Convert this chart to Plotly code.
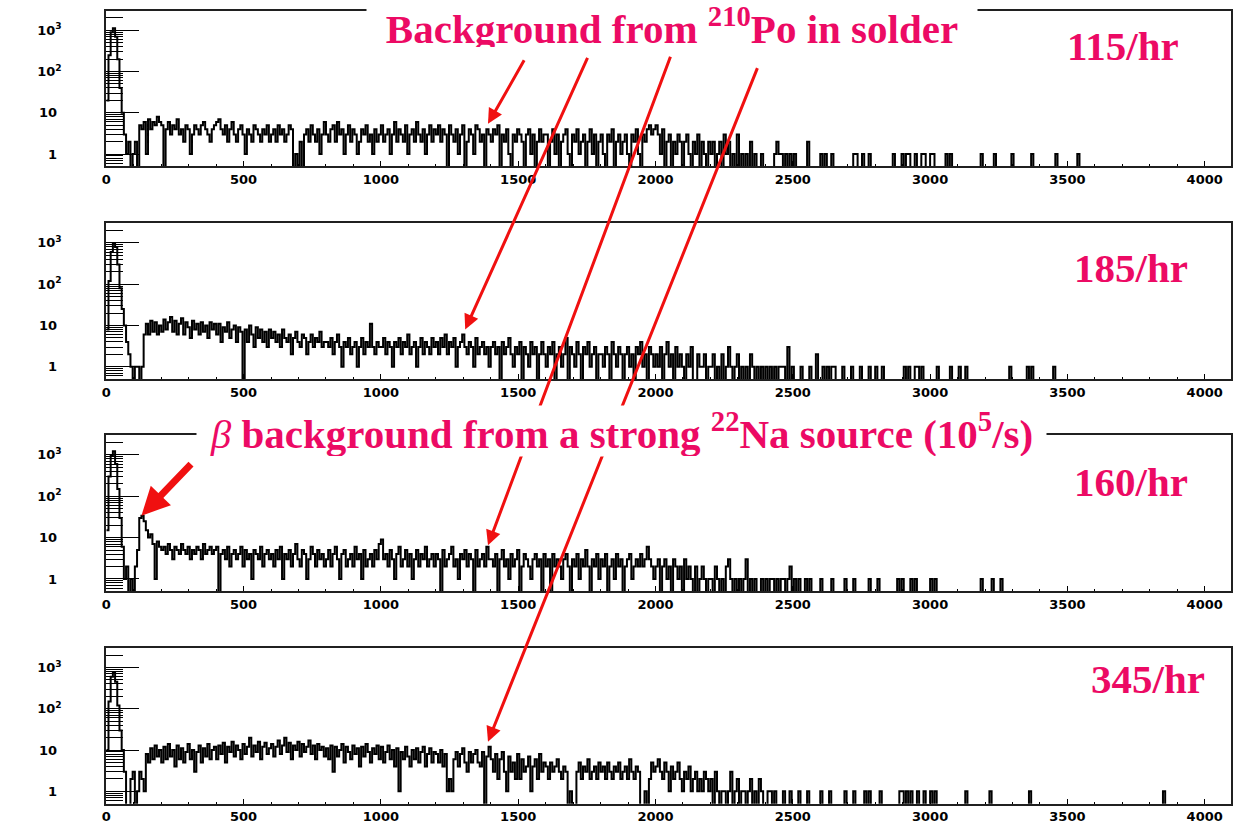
import numpy as np
import plotly.graph_objects as go

# ---------------- data (8-channel bins, channels 0..2400) ----------------
BIN_WIDTH = 8
N_CHANNELS = 4096

p1_counts = [
    20, 250, 900, 1120, 700, 200, 40, 10, 3, 1, 2, 0, 1, 2, 0, 5, 4, 6, 1, 7, 4, 6, 5, 8, 6,
    5, 0, 4, 6, 3, 5, 4, 7, 3, 4, 2, 5, 4, 1, 3, 5, 4, 3, 5, 6, 4, 3, 2, 4, 5,
    6, 7, 4, 3, 5, 2, 4, 6, 3, 2, 4, 5, 3, 1, 4, 3, 2, 5, 4, 3, 2, 4, 3, 5, 2,
    3, 4, 2, 5, 3, 4, 2, 3, 5, 4, 0, 1, 0, 2, 0, 3, 4, 2, 5, 3, 2, 4, 1, 3, 6,
    3, 2, 4, 5, 2, 6, 3, 4, 1, 3, 5, 2, 4, 3, 1, 2, 4, 3, 5, 2, 3, 1, 4, 2, 3,
    5, 2, 3, 4, 1, 3, 6, 2, 4, 3, 2, 5, 1, 3, 4, 2, 6, 3, 2, 4, 1, 3, 5, 2, 4,
    3, 5, 2, 4, 3, 0, 5, 3, 2, 4, 1, 3, 5, 0, 2, 4, 3, 1, 5, 4, 2, 3, 0, 4, 3,
    2, 4, 3, 5, 0, 3, 2, 4, 1, 0, 3, 2, 4, 3, 2, 0, 3, 4, 1, 3, 0, 2, 4, 2, 3,
    3, 0, 2, 4, 1, 3, 0, 2, 3, 4, 1, 0, 3, 2, 4, 1, 2, 3, 0, 2, 4, 1, 3, 0, 2,
    3, 1, 0, 3, 2, 4, 0, 2, 3, 1, 2, 3, 1, 0, 3, 2, 4, 1, 0, 3, 2, 4, 5, 3, 4,
    5, 3, 1, 4, 0, 2, 3, 0, 2, 1, 3, 2, 0, 2, 3, 1, 0, 2, 1, 3, 0, 2, 1, 0, 2,
    1, 2, 0, 1, 2, 0, 3, 1, 2, 0, 1, 0, 3, 0, 1, 0, 1, 0, 2, 0, 1, 0, 0, 1, 0,
]
p1_tail = [2436, 2444, 2446, 2452, 2460, 2476, 2490, 2508, 2553, 2555, 2604, 2620, 2645,
           2720, 2735, 2756, 2780, 2865, 2902, 2914, 2926, 2950, 2969, 2981, 3003, 3011,
           3060, 3078, 3186, 3235, 3301, 3374, 3459, 3537]

p2_counts = [
    8, 120, 600, 980, 800, 300, 80, 25, 10, 4, 2, 1, 0, 1, 1, 0, 1, 6, 11, 6, 13, 7, 12, 6, 10,
    7, 14, 8, 12, 16, 7, 13, 6, 11, 15, 6, 12, 9, 5, 13, 8, 11, 6, 12, 7, 10, 5, 12, 8, 11,
    6, 11, 4, 9, 7, 12, 5, 8, 10, 4, 9, 7, 0, 8, 4, 10, 6, 3, 9, 5, 8, 4, 7, 3, 8,
    5, 7, 4, 6, 3, 8, 5, 4, 6, 2, 5, 7, 4, 3, 6, 5, 2, 4, 6, 3, 5, 4, 7, 3, 4,
    4, 3, 5, 2, 4, 6, 3, 1, 4, 3, 5, 2, 3, 4, 1, 3, 5, 2, 4, 3, 11, 3, 2, 4, 3,
    3, 5, 2, 4, 3, 1, 4, 3, 5, 2, 4, 3, 6, 2, 3, 4, 1, 3, 5, 2, 4, 3, 2, 5, 3,
    4, 2, 5, 3, 6, 2, 4, 3, 5, 1, 3, 4, 6, 3, 2, 4, 3, 1, 5, 2, 3, 4, 2, 3, 1,
    3, 4, 2, 3, 0, 4, 2, 3, 5, 2, 1, 3, 2, 4, 0, 3, 2, 1, 4, 2, 3, 0, 2, 4, 2,
    1, 3, 2, 4, 0, 2, 3, 1, 2, 5, 0, 3, 2, 1, 4, 2, 0, 3, 2, 4, 1, 2, 3, 0, 2,
    2, 1, 3, 2, 0, 4, 2, 1, 3, 2, 0, 2, 3, 1, 2, 0, 3, 2, 4, 1, 2, 0, 3, 2, 1,
    2, 1, 3, 0, 2, 4, 1, 2, 0, 3, 1, 2, 1, 0, 2, 1, 3, 0, 0, 2, 1, 1, 2, 0, 1,
    1, 2, 0, 1, 0, 2, 0, 1, 3, 1, 0, 1, 2, 0, 1, 0, 1, 0, 2, 1, 0, 1, 0, 1, 0,
]
p2_tail = [2404, 2420, 2436, 2452, 2456, 2468, 2484, 2485, 2486, 2500, 2530, 2560, 2590,
           2591, 2610, 2626, 2642, 2650, 2685, 2718, 2747, 2776, 2805, 2827, 2905, 2920,
           2945, 2956, 2974, 3025, 3076, 3105, 3134, 3294, 3352, 3374, 3454]

p3_counts = [
    15, 300, 1000, 1230, 600, 150, 30, 6, 1, 2, 0, 1, 0, 2, 5, 30, 34, 25, 15, 10, 12, 7, 1, 8, 6,
    5, 6, 4, 7, 5, 3, 6, 5, 4, 7, 5, 4, 6, 3, 5, 4, 6, 5, 3, 7, 4, 5, 6, 4, 5,
    6, 0, 4, 5, 3, 6, 2, 4, 5, 3, 4, 6, 2, 5, 3, 4, 1, 5, 4, 3, 6, 2, 4, 5, 3,
    4, 2, 5, 3, 6, 1, 4, 3, 5, 2, 4, 7, 3, 2, 5, 4, 1, 3, 6, 4, 2, 5, 3, 4, 2,
    3, 5, 2, 4, 6, 3, 1, 4, 5, 2, 3, 4, 2, 6, 3, 4, 1, 5, 2, 3, 4, 2, 5, 3, 7,
    9, 3, 4, 2, 5, 3, 1, 4, 6, 2, 3, 5, 2, 4, 1, 3, 5, 2, 4, 3, 6, 2, 3, 4, 2,
    4, 3, 0, 5, 2, 3, 4, 6, 2, 3, 1, 4, 3, 5, 2, 4, 3, 0, 5, 2, 3, 4, 2, 6, 3,
    3, 2, 4, 0, 3, 5, 2, 3, 1, 4, 2, 3, 5, 0, 2, 4, 3, 2, 1, 3, 4, 2, 3, 0, 4,
    2, 3, 0, 4, 2, 3, 2, 1, 3, 4, 2, 0, 3, 2, 4, 1, 3, 2, 5, 2, 0, 3, 2, 4, 1,
    3, 2, 4, 0, 2, 3, 1, 4, 2, 3, 0, 2, 3, 4, 1, 2, 3, 2, 4, 2, 3, 6, 3, 2, 1,
    2, 3, 0, 2, 3, 1, 2, 0, 3, 2, 1, 2, 0, 3, 1, 2, 1, 0, 2, 0, 1, 2, 1, 0, 1,
    1, 0, 2, 1, 0, 1, 0, 2, 3, 1, 0, 1, 0, 1, 0, 1, 3, 0, 1, 0, 1, 0, 0, 1, 0,
]
p3_tail = [2404, 2418, 2430, 2444, 2456, 2470, 2487, 2488, 2489, 2505, 2520, 2545, 2560,
           2600, 2640, 2690, 2720, 2780, 2810, 2880, 2900, 2935, 2950, 3000, 3020, 3190,
           3225, 3260]

p4_counts = [
    10, 150, 600, 780, 450, 120, 30, 10, 3, 0, 0, 2, 3, 0, 1, 3, 2, 1, 8, 5, 11, 6, 13, 7, 10,
    5, 12, 6, 14, 7, 10, 4, 13, 6, 11, 5, 9, 14, 6, 10, 3, 9, 13, 5, 11, 7, 14, 6, 10, 12,
    6, 13, 8, 15, 5, 12, 9, 16, 7, 13, 10, 6, 14, 8, 12, 20, 7, 13, 9, 16, 6, 12, 15, 8, 11,
    14, 7, 12, 17, 8, 13, 20, 9, 15, 6, 13, 10, 16, 7, 14, 9, 12, 17, 8, 13, 6, 14, 10, 12, 7,
    11, 6, 13, 3, 12, 7, 10, 14, 5, 12, 9, 6, 13, 8, 11, 4, 12, 7, 14, 9, 5, 11, 8, 13, 6,
    12, 5, 9, 13, 6, 10, 4, 11, 1, 9, 6, 12, 7, 4, 10, 6, 11, 5, 9, 12, 4, 8, 11, 5, 9,
    8, 5, 10, 4, 8, 1, 2, 1, 6, 9, 4, 8, 11, 5, 3, 9, 5, 8, 10, 5, 4, 9, 0, 7, 12,
    6, 3, 8, 2, 6, 9, 3, 1, 7, 3, 5, 2, 8, 2, 6, 3, 4, 7, 1, 4, 6, 2, 8, 3, 5,
    4, 2, 5, 3, 4, 6, 3, 2, 4, 3, 0, 1, 0, 0, 3, 5, 2, 4, 3, 6, 2, 3, 4, 2, 5,
    3, 4, 2, 5, 3, 2, 4, 3, 5, 2, 3, 4, 2, 6, 3, 2, 4, 3, 0, 0, 1, 0, 2, 5, 3,
    4, 6, 3, 2, 5, 3, 1, 4, 2, 3, 5, 2, 1, 3, 2, 4, 1, 2, 3, 1, 2, 1, 3, 2, 1,
    2, 0, 3, 1, 0, 1, 1, 0, 1, 3, 0, 1, 2, 0, 1, 1, 0, 1, 2, 0, 1, 0, 2, 1, 0,
]
p4_tail = [2410, 2420, 2432, 2464, 2494, 2524, 2554, 2604, 2634, 2693, 2723, 2763, 2783,
           2823, 2893, 2903, 2913, 2933, 2953, 2983, 3003, 3023, 3132, 3222, 3360, 3850]

rate_labels = ["115/hr", "185/hr", "160/hr", "345/hr"]
x_tick_vals = [0, 500, 1000, 1500, 2000, 2500, 3000, 3500, 4000]
y_tick_vals = [1, 10, 100, 1000]
y_tick_text = ["1\u00a0", "10\u00a0", "10<sup>2</sup>", "10<sup>3</sup>"]
y_min, y_max = 0.5, 3000

title_po = "<b>Background from <sup>210</sup>Po in solder</b>"
title_na = "<i>β</i><b> background from a strong <sup>22</sup>Na source (10<sup>5</sup>/s)</b>"

# arrow heads (panel, channel, counts) and tail offsets in pixels
po_arrows = [
    (1, 1390, 5.4, 37, -65),
    (2, 1307, 8.0, 123, -273),
    (3, 1390, 6.5, 183, -490),
    (4, 1390, 16.0, 270, -675),
]
na_arrow = (3, 128, 34.0, 51, -53)

# ---------------- styling ----------------
PINK = "#EC0A64"
RED = "#F01010"
X_DOMAIN = [101.7 / 1248, 1231 / 1248]
panel_px = [(10.7, 167.3), (224.3, 381.0), (437.3, 594.3), (651.0, 807.7)]
rate_pos = [(0.904, 0.77), (0.911, 0.71), (0.911, 0.70), (0.926, 0.80)]


def sfx(n):
    return "" if n == 1 else str(n)


def histogram(counts, tail):
    h = np.zeros(N_CHANNELS // BIN_WIDTH)
    h[:len(counts)] = counts
    for ch in tail:
        h[ch // BIN_WIDTH] += 1
    return h


edges = np.arange(0, N_CHANNELS + 1, BIN_WIDTH)
panels = [(p1_counts, p1_tail), (p2_counts, p2_tail), (p3_counts, p3_tail), (p4_counts, p4_tail)]

fig = go.Figure()
minor_vals = ([v / 10 for v in range(5, 10)] + list(range(2, 10)) + list(range(20, 100, 10))
              + list(range(200, 1000, 100)) + [2000, 3000])

tick_font = dict(family="DejaVu Sans", size=13, color="black", weight="bold")

for i, (counts, tail) in enumerate(panels):
    n = i + 1
    s = sfx(n)
    h = histogram(counts, tail)
    y = np.where(h > 0, h, 0.1)
    xs = np.append(edges[:-1], edges[-1])
    ys = np.append(y, y[-1])
    fig.add_trace(go.Scatter(
        x=xs, y=ys, mode="lines", line=dict(color="black", width=2.0, shape="hv"),
        xaxis=f"x{s}", yaxis=f"y{s}", hoverinfo="skip", showlegend=False))
    top, bot = panel_px[i]
    ydom = [1 - bot / 824, 1 - top / 824]
    fig.update_layout(**{
        f"xaxis{s}": dict(
            domain=X_DOMAIN, anchor=f"y{s}", range=[0, N_CHANNELS],
            tickvals=x_tick_vals, ticks="inside", ticklen=5, tickwidth=1, tickcolor="black",
            minor=dict(ticks="inside", ticklen=2, dtick=100, tickcolor="black"),
            showline=True, mirror=True, linecolor="#202020", linewidth=2,
            showgrid=False, zeroline=False, tickfont=tick_font, fixedrange=True),
        f"yaxis{s}": dict(
            domain=ydom, anchor=f"x{s}", type="log",
            range=[np.log10(y_min), np.log10(y_max)],
            tickvals=y_tick_vals, ticktext=y_tick_text, ticks="inside", ticklen=33,
            tickwidth=1, tickcolor="black", ticklabelstandoff=40,
            minor=dict(ticks="inside", ticklen=17, tickvals=minor_vals, tickcolor="black", tickwidth=1),
            showline=True, mirror=True, linecolor="#202020", linewidth=2,
            showgrid=False, zeroline=False, tickfont=tick_font, fixedrange=True),
    })


def arrow(p, ch, val, ax, ay, width, size):
    s = sfx(p)
    return dict(xref=f"x{s}", yref=f"y{s}", x=ch, y=float(np.log10(val)), ax=ax, ay=ay,
                text="", showarrow=True, arrowhead=2, arrowsize=size,
                arrowwidth=width, arrowcolor=RED)


annotations = []
# arrows that pass behind the 22Na title box go first
for a in po_arrows[2:]:
    annotations.append(arrow(*a, 3, 1.0))
annotations.append(arrow(*na_arrow, 7, 0.8))
annotations.append(dict(xref="paper", yref="paper", x=619 / 1248, y=1 - 433 / 824,
                        xanchor="center", yanchor="middle", text=title_na, showarrow=False,
                        width=849, height=50, bgcolor="white", borderpad=0,
                        font=dict(family="Liberation Serif", size=41, color=PINK)))
annotations.append(dict(xref="paper", yref="paper", x=670 / 1248, y=1 - 26 / 824,
                        xanchor="center", yanchor="middle", text=title_po, showarrow=False,
                        width=610, height=42, bgcolor="white", borderpad=0,
                        font=dict(family="Liberation Serif", size=41, color=PINK)))
for a in po_arrows[:2]:
    annotations.append(arrow(*a, 3, 1.0))
for i, lab in enumerate(rate_labels):
    s = sfx(i + 1)
    annotations.append(dict(xref=f"x{s} domain", yref=f"y{s} domain", x=rate_pos[i][0],
                            y=rate_pos[i][1], xanchor="center", yanchor="middle",
                            text=f"<b>{lab}</b>", showarrow=False,
                            font=dict(family="Liberation Serif", size=41, color=PINK)))

fig.update_layout(width=1248, height=824, margin=dict(l=0, r=0, t=0, b=0),
                  paper_bgcolor="white", plot_bgcolor="white", showlegend=False,
                  annotations=annotations)

fig.write_html("out.html")
